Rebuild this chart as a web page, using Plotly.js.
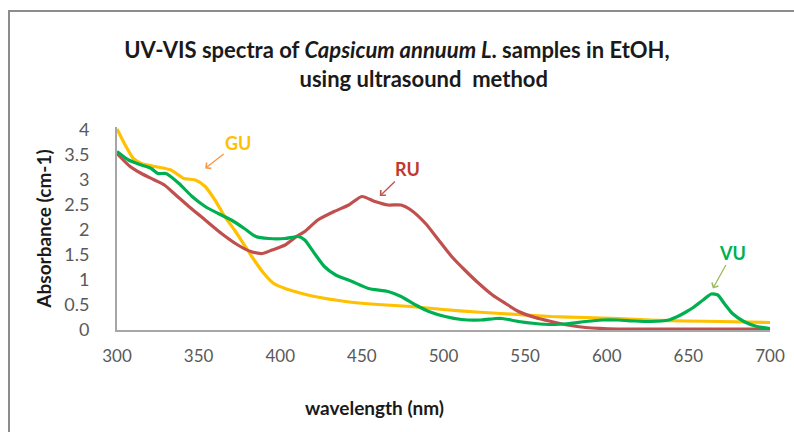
<!DOCTYPE html>
<html>
<head>
<meta charset="utf-8">
<script src="https://cdn.plot.ly/plotly-3.0.1.min.js"></script>
<style>
  html, body { margin: 0; padding: 0; background: #ffffff; }
  #wrap { position: relative; width: 794px; height: 432px; overflow: hidden; }
  #chart { position: absolute; left: 0; top: 0; width: 794px; height: 432px; }
  #frame { position: absolute; left: 8px; top: 10px; right: -4px; bottom: -4px;
           border-left: 2px solid #8c8c8c; border-top: 2px solid #8c8c8c; pointer-events: none; }
</style>
</head>
<body>
<div id="wrap">
  <div id="chart"></div>
  <div id="frame"></div>
</div>
<script>
// GU series (wavelength nm, absorbance cm-1)
var guWavelength = [300, 305, 310, 315, 323, 333, 341, 348, 354, 360, 366, 372, 378, 384, 390, 396, 403, 410, 421, 440, 460, 480, 500, 520, 545, 566, 587, 607, 627, 648, 670, 700];
var guAbsorbance = [4.02, 3.70, 3.43, 3.33, 3.27, 3.20, 3.03, 3.00, 2.87, 2.60, 2.27, 2.00, 1.70, 1.40, 1.13, 0.93, 0.83, 0.76, 0.67, 0.57, 0.51, 0.47, 0.41, 0.36, 0.31, 0.27, 0.25, 0.23, 0.20, 0.18, 0.17, 0.15];

// RU series
var ruWavelength = [300, 308, 315, 323, 329, 336, 344, 354, 364, 374, 382, 389, 395, 403, 410, 415, 423, 433, 442, 450, 458, 466, 474, 480, 489, 497, 505, 513, 521, 530, 538, 546, 556, 566, 576, 587, 607, 650, 700];
var ruAbsorbance = [3.53, 3.27, 3.13, 3.00, 2.90, 2.70, 2.47, 2.20, 1.93, 1.70, 1.57, 1.53, 1.60, 1.70, 1.87, 1.97, 2.20, 2.37, 2.50, 2.67, 2.57, 2.50, 2.50, 2.40, 2.13, 1.80, 1.47, 1.20, 0.95, 0.70, 0.53, 0.37, 0.25, 0.17, 0.10, 0.05, 0.02, 0.02, 0.02];

// VU series
var vuWavelength = [300, 307, 315, 321, 325, 330, 338, 346, 354, 362, 370, 378, 385, 393, 403, 411, 415, 421, 427, 434, 444, 454, 466, 474, 483, 491, 501, 511, 523, 532, 536, 546, 556, 566, 577, 587, 597, 607, 617, 627, 638, 644, 648, 653, 659, 664, 668, 672, 677, 684, 692, 700];
var vuAbsorbance = [3.57, 3.40, 3.30, 3.23, 3.13, 3.13, 2.93, 2.67, 2.47, 2.33, 2.20, 2.03, 1.87, 1.83, 1.83, 1.87, 1.80, 1.53, 1.27, 1.10, 0.97, 0.83, 0.77, 0.67, 0.50, 0.37, 0.27, 0.21, 0.20, 0.23, 0.23, 0.17, 0.13, 0.11, 0.13, 0.17, 0.20, 0.20, 0.18, 0.17, 0.20, 0.28, 0.35, 0.45, 0.60, 0.72, 0.70, 0.53, 0.33, 0.17, 0.07, 0.03];

var xTickValues = [300, 350, 400, 450, 500, 550, 600, 650, 700];
var yTickValues = [0, 0.5, 1, 1.5, 2, 2.5, 3, 3.5, 4];

var seriesNames = ["GU", "RU", "VU"];
var seriesColors = ["#FFC000", "#C0504D", "#00B050"];
var labelColors = ["#FFC000", "#C0392B", "#00B050"];
var arrowColors = ["#F79646", "#C0504D", "#9BBB59"];
// arrow target points on each curve (wavelength, absorbance)
var arrowWavelength = [354, 461, 665];
var arrowAbsorbance = [3.23, 2.68, 0.83];

var FONT = "Lato, Carlito, Calibri, 'Open Sans', sans-serif";

var traces = [
  { x: guWavelength, y: guAbsorbance, name: seriesNames[0] },
  { x: ruWavelength, y: ruAbsorbance, name: seriesNames[1] },
  { x: vuWavelength, y: vuAbsorbance, name: seriesNames[2] }
].map(function (t, i) {
  return {
    type: "scatter", mode: "lines", x: t.x, y: t.y, name: t.name,
    line: { color: seriesColors[i], width: 3.2, shape: "spline", smoothing: 0.6 },
    hoverinfo: "x+y+name"
  };
});

var annOffsets = [[33, -26], [28, -27], [20, -36]];
var annotations = seriesNames.map(function (n, i) {
  return {
    x: arrowWavelength[i], y: arrowAbsorbance[i], xref: "x", yref: "y",
    text: "<b>" + n + "</b>", showarrow: true,
    ax: annOffsets[i][0], ay: annOffsets[i][1],
    arrowhead: 4, arrowsize: 1.1, arrowwidth: 1.3, arrowcolor: arrowColors[i],
    font: { family: FONT, size: 18, color: labelColors[i] }
  };
});
annotations.push({
  xref: "paper", yref: "paper", x: (374 - 117) / (770 - 117), y: -(407 - 330) / 203,
  xanchor: "center", yanchor: "middle", showarrow: false,
  text: "<b>wavelength (nm)</b>",
  font: { family: FONT, size: 19, color: "#1a1a1a" }
});

var pad = "";
for (var k = 0; k < 10; k++) pad += "&nbsp;";

var layout = {
  width: 794, height: 432,
  margin: { l: 117, r: 24, t: 127, b: 102, pad: 0 },
  paper_bgcolor: "rgba(0,0,0,0)", plot_bgcolor: "rgba(0,0,0,0)",
  showlegend: false,
  title: {
    text: "<b>UV-VIS spectra of <i>Capsicum annuum L</i>. samples in EtOH,<br>" + pad + "using ultrasound  method</b>",
    x: 0.5, xref: "container", xanchor: "center",
    y: 1 - 58 / 432, yref: "container", yanchor: "middle",
    font: { family: FONT, size: 22, color: "#1a1a1a" }
  },
  xaxis: {
    range: [300, 700], tickvals: xTickValues, ticktext: xTickValues.map(String),
    showgrid: false, zeroline: false, showline: true, linecolor: "#a6a6a6", linewidth: 2,
    ticks: "", ticklabelstandoff: 10,
    tickfont: { family: FONT, size: 17, color: "#595959" }
  },
  yaxis: {
    range: [0, 4.06], tickvals: yTickValues, ticktext: yTickValues.map(String),
    showgrid: false, zeroline: false, showline: true, linecolor: "#a6a6a6", linewidth: 2,
    ticks: "", ticklabelstandoff: 22,
    tickfont: { family: FONT, size: 18, color: "#595959" },
    title: { text: "<b>Absorbance (cm-1)</b>", standoff: 8,
             font: { family: FONT, size: 19, color: "#1a1a1a" } }
  },
  annotations: annotations
};

Plotly.newPlot("chart", traces, layout, { displayModeBar: false, staticPlot: true });
</script>
</body>
</html>
